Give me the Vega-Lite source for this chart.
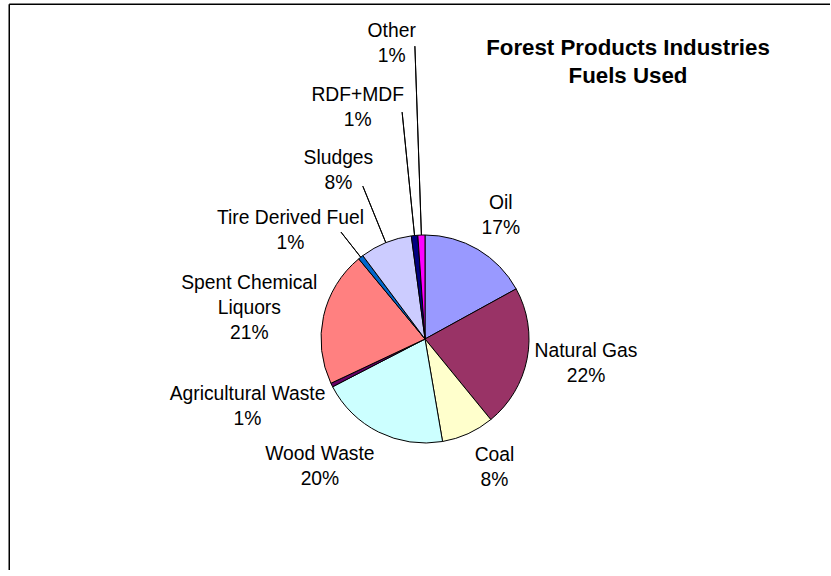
{
  "$schema": "https://vega.github.io/schema/vega-lite/v6.json",
  "width": 821,
  "height": 566,
  "autosize": "none",
  "padding": {"left": 9.25, "top": 4.25, "right": 0, "bottom": 0},
  "background": "white",
  "config": {
    "view": {"stroke": null},
    "font": "Liberation Sans"
  },
  "title": {
    "text": ["Forest Products Industries", "Fuels Used"],
    "font": "Liberation Sans",
    "fontSize": 22.3,
    "fontWeight": "bold",
    "color": "#000",
    "anchor": "middle",
    "offset": 0,
    "lineHeight": 28,
    "dx": 208.25,
    "dy": 84
  },
  "data": {
    "values": [
      {"i": 1, "fuel": "Oil", "value": 17.0, "label": "Oil\n17%"},
      {"i": 2, "fuel": "Natural Gas", "value": 22.1, "label": "Natural Gas\n22%"},
      {"i": 3, "fuel": "Coal", "value": 8.2, "label": "Coal\n8%"},
      {"i": 4, "fuel": "Wood Waste", "value": 20.1, "label": "Wood Waste\n20%"},
      {"i": 5, "fuel": "Agricultural Waste", "value": 0.6, "label": "Agricultural Waste\n1%"},
      {"i": 6, "fuel": "Spent Chemical Liquors", "value": 21.0, "label": "Spent Chemical\nLiquors\n21%"},
      {"i": 7, "fuel": "Tire Derived Fuel", "value": 0.8, "label": "Tire Derived Fuel\n1%"},
      {"i": 8, "fuel": "Sludges", "value": 8.1, "label": "Sludges\n8%"},
      {"i": 9, "fuel": "RDF+MDF", "value": 1.0, "label": "RDF+MDF\n1%"},
      {"i": 10, "fuel": "Other", "value": 1.1, "label": "Other\n1%"}
    ]
  },
  "layer": [
    {
      "data": {"values": [{}]},
      "mark": {"type": "rule", "color": "#000", "strokeWidth": 1.5},
      "encoding": {"x": {"value": 0}, "y": {"value": 0}, "y2": {"value": "height"}}
    },
    {
      "data": {"values": [{}]},
      "mark": {"type": "rule", "color": "#000", "strokeWidth": 1.5},
      "encoding": {"y": {"value": 0}, "x": {"value": 0}, "x2": {"value": "width"}}
    },
    {
      "encoding": {
        "theta": {"field": "value", "type": "quantitative", "stack": true},
        "order": {"field": "i", "type": "quantitative"},
        "detail": {"field": "fuel", "type": "nominal"}
      },
      "layer": [
        {
          "mark": {"type": "arc", "x": {"expr": "width/2+5.25"}, "y": {"expr": "height/2+51.75"}, "radius": 104, "stroke": "#000", "strokeWidth": 1},
          "encoding": {
            "color": {
              "field": "fuel",
              "type": "nominal",
              "legend": null,
              "scale": {
                "domain": ["Oil", "Natural Gas", "Coal", "Wood Waste", "Agricultural Waste", "Spent Chemical Liquors", "Tire Derived Fuel", "Sludges", "RDF+MDF", "Other"],
                "range": ["#9999FF", "#993366", "#FFFFCC", "#CCFFFF", "#660066", "#FF8080", "#0066CC", "#CCCCFF", "#000080", "#FF00FF"]
              }
            }
          }
        },
        {
          "mark": {"type": "arc", "x": {"expr": "width/2+5.25"}, "y": {"expr": "height/2+51.75"}, "radius": 136, "radius2": 104, "padAngle": 1, "fillOpacity": 0, "stroke": "#000", "strokeWidth": 1},
          "encoding": {"strokeOpacity": {"condition": {"test": "datum.fuel === 'Tire Derived Fuel'", "value": 1}, "value": 0}}
        },
        {
          "mark": {"type": "arc", "x": {"expr": "width/2+5.25"}, "y": {"expr": "height/2+51.75"}, "radius": 165, "radius2": 104, "padAngle": 1, "fillOpacity": 0, "stroke": "#000", "strokeWidth": 1},
          "encoding": {"strokeOpacity": {"condition": {"test": "datum.fuel === 'Sludges'", "value": 1}, "value": 0}}
        },
        {
          "mark": {"type": "arc", "x": {"expr": "width/2+5.25"}, "y": {"expr": "height/2+51.75"}, "radius": 228, "radius2": 104, "padAngle": 1, "fillOpacity": 0, "stroke": "#000", "strokeWidth": 1},
          "encoding": {"strokeOpacity": {"condition": {"test": "datum.fuel === 'RDF+MDF'", "value": 1}, "value": 0}}
        },
        {
          "mark": {"type": "arc", "x": {"expr": "width/2+5.25"}, "y": {"expr": "height/2+51.75"}, "radius": 293, "radius2": 104, "padAngle": 1, "fillOpacity": 0, "stroke": "#000", "strokeWidth": 1},
          "encoding": {"strokeOpacity": {"condition": {"test": "datum.fuel === 'Other'", "value": 1}, "value": 0}}
        },
        {
          "mark": {"type": "text", "x": {"expr": "width/2+5.25"}, "y": {"expr": "height/2+51.75"}, "radius": 145, "dx": 2, "dy": -11.5, "lineBreak": "\n", "fontSize": 19.3, "lineHeight": 25, "align": "center", "baseline": "middle", "color": "#000"},
          "encoding": {"text": {"condition": {"test": "datum.fuel === 'Oil'", "field": "label"}, "value": ""}}
        },
        {
          "mark": {"type": "text", "x": {"expr": "width/2+5.25"}, "y": {"expr": "height/2+51.75"}, "radius": 163, "dx": 1, "dy": -19.5, "lineBreak": "\n", "fontSize": 19.3, "lineHeight": 25, "align": "center", "baseline": "middle", "color": "#000"},
          "encoding": {"text": {"condition": {"test": "datum.fuel === 'Natural Gas'", "field": "label"}, "value": ""}}
        },
        {
          "mark": {"type": "text", "x": {"expr": "width/2+5.25"}, "y": {"expr": "height/2+51.75"}, "radius": 146, "dx": 9, "dy": -16.5, "lineBreak": "\n", "fontSize": 19.3, "lineHeight": 25, "align": "center", "baseline": "middle", "color": "#000"},
          "encoding": {"text": {"condition": {"test": "datum.fuel === 'Coal'", "field": "label"}, "value": ""}}
        },
        {
          "mark": {"type": "text", "x": {"expr": "width/2+5.25"}, "y": {"expr": "height/2+51.75"}, "radius": 164, "dx": -32, "dy": -32, "lineBreak": "\n", "fontSize": 19.3, "lineHeight": 25, "align": "center", "baseline": "middle", "color": "#000"},
          "encoding": {"text": {"condition": {"test": "datum.fuel === 'Wood Waste'", "field": "label"}, "value": ""}}
        },
        {
          "mark": {"type": "text", "x": {"expr": "width/2+5.25"}, "y": {"expr": "height/2+51.75"}, "radius": 189, "dx": -8, "dy": -29, "lineBreak": "\n", "fontSize": 19.3, "lineHeight": 25, "align": "center", "baseline": "middle", "color": "#000"},
          "encoding": {"text": {"condition": {"test": "datum.fuel === 'Agricultural Waste'", "field": "label"}, "value": ""}}
        },
        {
          "mark": {"type": "text", "x": {"expr": "width/2+5.25"}, "y": {"expr": "height/2+51.75"}, "radius": 179, "dx": -1, "dy": -17, "lineBreak": "\n", "fontSize": 19.3, "lineHeight": 25, "align": "center", "baseline": "middle", "color": "#000"},
          "encoding": {"text": {"condition": {"test": "datum.fuel === 'Spent Chemical Liquors'", "field": "label"}, "value": ""}}
        },
        {
          "mark": {"type": "text", "x": {"expr": "width/2+5.25"}, "y": {"expr": "height/2+51.75"}, "radius": 174, "dx": -27, "dy": 15.5, "lineBreak": "\n", "fontSize": 19.3, "lineHeight": 25, "align": "center", "baseline": "middle", "color": "#000"},
          "encoding": {"text": {"condition": {"test": "datum.fuel === 'Tire Derived Fuel'", "field": "label"}, "value": ""}}
        },
        {
          "mark": {"type": "text", "x": {"expr": "width/2+5.25"}, "y": {"expr": "height/2+51.75"}, "radius": 190, "dx": -15, "dy": -5.5, "lineBreak": "\n", "fontSize": 19.3, "lineHeight": 25, "align": "center", "baseline": "middle", "color": "#000"},
          "encoding": {"text": {"condition": {"test": "datum.fuel === 'Sludges'", "field": "label"}, "value": ""}}
        },
        {
          "mark": {"type": "text", "x": {"expr": "width/2+5.25"}, "y": {"expr": "height/2+51.75"}, "radius": 242, "dx": -43, "dy": -3.5, "lineBreak": "\n", "fontSize": 19.3, "lineHeight": 25, "align": "center", "baseline": "middle", "color": "#000"},
          "encoding": {"text": {"condition": {"test": "datum.fuel === 'RDF+MDF'", "field": "label"}, "value": ""}}
        },
        {
          "mark": {"type": "text", "x": {"expr": "width/2+5.25"}, "y": {"expr": "height/2+51.75"}, "radius": 298, "dx": -23, "dy": -10.5, "lineBreak": "\n", "fontSize": 19.3, "lineHeight": 25, "align": "center", "baseline": "middle", "color": "#000"},
          "encoding": {"text": {"condition": {"test": "datum.fuel === 'Other'", "field": "label"}, "value": ""}}
        }
      ]
    }
  ]
}
